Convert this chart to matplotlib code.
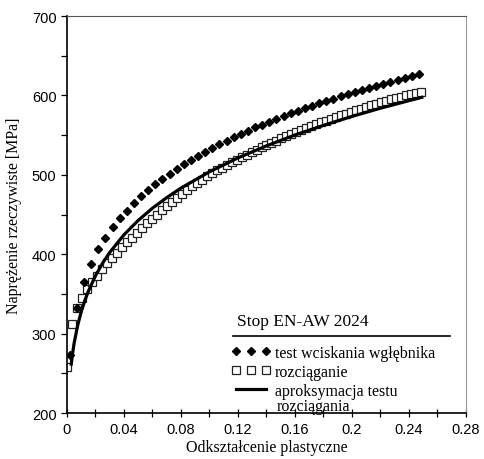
import matplotlib.pyplot as plt
from matplotlib.ticker import MultipleLocator, FormatStrFormatter
from matplotlib.lines import Line2D

# indentation test (diamonds)
eps_test = [0.002, 0.007, 0.012, 0.017, 0.022, 0.027, 0.032, 0.037, 0.042, 0.047,
            0.052, 0.057, 0.062, 0.067, 0.072, 0.077, 0.082, 0.087, 0.092, 0.097,
            0.102, 0.107, 0.112, 0.117, 0.122, 0.127, 0.132, 0.137, 0.142, 0.147,
            0.152, 0.157, 0.162, 0.167, 0.172, 0.177, 0.182, 0.187, 0.192, 0.197,
            0.202, 0.207, 0.212, 0.217, 0.222, 0.227, 0.232, 0.237, 0.242, 0.247]
sig_test = [273, 332, 365, 388, 406, 421, 434, 445, 455, 464.3,
            472.9, 480.8, 488.1, 495.0, 501.5, 507.6, 513.5, 519.0, 524.3, 529.3,
            534.1, 538.8, 543.2, 547.5, 551.7, 555.6, 559.6, 563.3, 567.0, 570.5,
            574.0, 577.4, 580.7, 583.9, 587.0, 590.0, 593.0, 595.9, 598.8, 601.5,
            604.3, 607.0, 609.6, 612.2, 614.7, 617.2, 619.6, 622.0, 624.3, 626.7]

# tensile test (squares)
eps_tens = [0.0, 0.0035, 0.007, 0.0105, 0.014, 0.0175, 0.021, 0.0245, 0.028, 0.0315,
            0.035, 0.0385, 0.042, 0.0455, 0.049, 0.0525, 0.056, 0.0595, 0.063, 0.0665,
            0.07, 0.0735, 0.077, 0.0805, 0.084, 0.0875, 0.091, 0.0945, 0.098, 0.1015,
            0.105, 0.1085, 0.112, 0.1155, 0.119, 0.1225, 0.126, 0.1295, 0.133, 0.1365,
            0.14, 0.1435, 0.147, 0.1505, 0.154, 0.1575, 0.161, 0.1645, 0.168, 0.1715,
            0.175, 0.1785, 0.182, 0.1855, 0.189, 0.1925, 0.196, 0.1995, 0.203, 0.2065,
            0.21, 0.2135, 0.217, 0.2205, 0.224, 0.2275, 0.231, 0.2345, 0.238, 0.2415,
            0.245, 0.2485]
sig_tens = [258, 312, 332, 345, 356, 365, 373, 381, 388.5, 395.5,
            402, 408.5, 415, 421, 427, 433, 439, 444.5, 450, 455.5,
            461, 466, 471, 476, 481, 485.5, 490, 494, 498, 502,
            505.5, 509, 512.5, 516, 519, 522, 525.5, 528.5, 531.5, 534.5,
            537.5, 540.5, 543, 546, 548.5, 551, 553.5, 556, 558.5, 561,
            563.5, 566, 568, 570.5, 573, 575, 577, 579.5, 581.5, 583.5,
            585.5, 587.5, 589.5, 591.5, 593.5, 595.5, 597, 598.5, 600, 601.5,
            603, 604.5]

# approximation of tensile test
eps_fit = [0.003, 0.004, 0.005, 0.0075, 0.01, 0.0125, 0.015, 0.02, 0.025, 0.03,
           0.04, 0.05, 0.06, 0.07, 0.08, 0.10, 0.12, 0.14, 0.16, 0.18,
           0.20, 0.22, 0.24, 0.249]
sig_fit = [261.6, 275.9, 287.8, 310.4, 327.6, 341.5, 353.4, 372.9, 388.8, 402.3,
           424.5, 442.6, 458.0, 471.3, 483.3, 503.8, 521.3, 536.5, 550.2, 562.3,
           573.6, 583.9, 593.4, 597.6]

labels = ['test wciskania wgłębnika', 'rozciąganie', 'aproksymacja testu']
label_cont = 'rozciągania'
title = 'Stop EN-AW 2024'

serif = ['Liberation Serif', 'DejaVu Serif']
sans = ['Liberation Sans', 'DejaVu Sans']

fig = plt.figure(figsize=(4.84, 4.6), dpi=100)
ax = fig.add_axes([0.1384, 0.1, 0.8244, 0.863])

sq, = ax.plot(eps_tens, sig_tens, ls='none', marker='s', ms=6.2, mfc='white',
              mec='#222222', mew=0.9, zorder=2)
di, = ax.plot(eps_test, sig_test, ls='none', marker='D', ms=4.3, color='black',
              zorder=3)
fit, = ax.plot(eps_fit, sig_fit, color='black', lw=2.3, zorder=4)

ax.set_xlim(0, 0.28)
ax.set_ylim(200, 700)
ax.xaxis.set_major_locator(MultipleLocator(0.04))
ax.xaxis.set_minor_locator(MultipleLocator(0.02))
ax.yaxis.set_major_locator(MultipleLocator(100))
ax.yaxis.set_minor_locator(MultipleLocator(50))
ax.xaxis.set_major_formatter(FormatStrFormatter('%g'))
ax.tick_params(axis='x', which='both', direction='inout', length=6, width=0.9)
ax.tick_params(axis='y', which='both', direction='out', length=4, width=0.9)
for lab in ax.get_xticklabels() + ax.get_yticklabels():
    lab.set_family(sans)
    lab.set_fontsize(10.5)

ax.spines['left'].set_linewidth(1.2)
ax.spines['bottom'].set_linewidth(1.2)
ax.spines['top'].set_color('#555555')
ax.spines['right'].set_color('#999999')

ax.set_xlabel('Odkształcenie plastyczne', family=serif, fontsize=11.5, labelpad=2)
ax.set_ylabel('Naprężenie rzeczywiste [MPa]', family=serif, fontsize=11.5, labelpad=7)

# legend block: title, rule, entries
ax.text(0.426, 0.232, title, transform=ax.transAxes, family=serif, fontsize=12.5,
        ha='left', va='center')
ax.add_line(Line2D([0.416, 0.96], [0.194, 0.194], transform=ax.transAxes,
                   color='black', lw=1.2))
leg = ax.legend([di, sq, fit], labels, loc='upper left', bbox_to_anchor=(0.395, 0.188),
                frameon=False, numpoints=3, handlelength=2.5, handletextpad=0.25,
                labelspacing=0.18, borderaxespad=0,
                prop={'family': serif, 'size': 11.5})
ax.text(0.5265, 0.018, label_cont, transform=ax.transAxes, family=serif,
        fontsize=11.5, ha='left', va='center')

fig.savefig('out.png', dpi=100)
